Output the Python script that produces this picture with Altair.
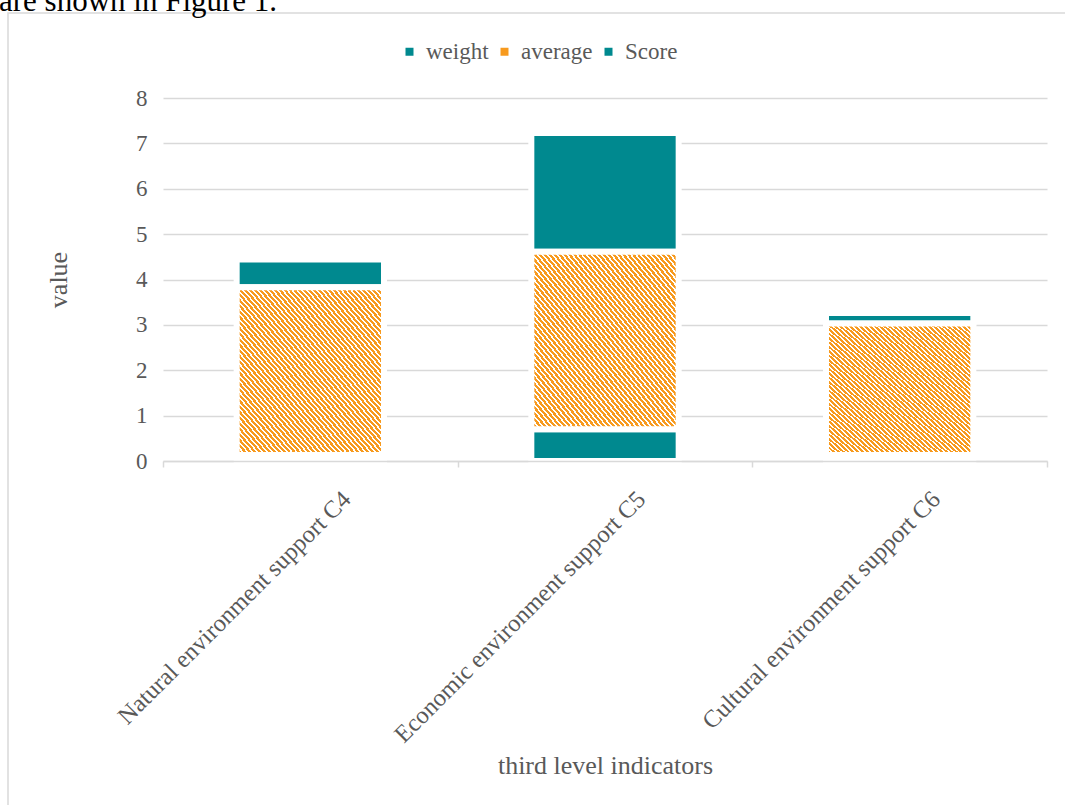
import altair as alt
import pandas as pd

# ---- data ----
categories = [
    "Natural environment support C4",
    "Economic environment support C5",
    "Cultural environment support C6",
]
series_names = ["weight", "average", "Score"]
weight = [0.13, 0.70, 0.13]
average = [3.70, 3.91, 2.90]
score = [0.61, 2.62, 0.23]
y_ticks = [0, 1, 2, 3, 4, 5, 6, 7, 8]

rows = []
for i, c in enumerate(categories):
    for k, (s, vals) in enumerate(zip(series_names, [weight, average, score])):
        rows.append({"category": c, "series": s, "order": k, "value": vals[i]})
df = pd.DataFrame(rows)

TEAL = "#00898F"
ORANGE = "#F79A1E"
GRAY = "#595959"
LINE = "#d9d9d9"
FONT = "Liberation Serif"

# diagonal hatch built as a hard-stop linear gradient
N = 60
frac = 0.6
stops = []
for k in range(N):
    a = k / N
    b = (k + frac) / N
    e = (k + 1) / N
    stops += [
        {"offset": a, "color": ORANGE},
        {"offset": b, "color": ORANGE},
        {"offset": b, "color": "#ffffff"},
        {"offset": e, "color": "#ffffff"},
    ]
hatch = {"gradient": "linear", "x1": 0, "y1": 1, "x2": 1, "y2": 0, "stops": stops}

x_enc = alt.X(
    "category:N",
    sort=categories,
    scale=alt.Scale(paddingInner=0, paddingOuter=0),
    axis=alt.Axis(
        title="third level indicators",
        titleFont=FONT,
        titleFontSize=26,
        titleFontWeight="normal",
        titleColor=GRAY,
        titleX=442,
        titleY=304,
        titleBaseline="middle",
        labelFont=FONT,
        labelFontSize=24.5,
        labelColor=GRAY,
        labelAngle=315,
        labelAlign="right",
        labelBaseline="top",
        labelOffset=28,
        labelPadding=20,
        labelLimit=0,
        tickBand="extent",
        ticks=True,
        tickSize=6,
        tickColor=LINE,
        tickWidth=1.5,
        domainColor=LINE,
        domainWidth=1.5,
        grid=False,
        zindex=1,
    ),
)
y_enc = alt.Y(
    "start:Q",
    scale=alt.Scale(domain=[0, 8], nice=False),
    axis=alt.Axis(
        values=y_ticks,
        title="value",
        titleFont=FONT,
        titleFontSize=26,
        titleFontWeight="normal",
        titleColor=GRAY,
        titleAngle=270,
        titleX=-105,
        titleY=181.5,
        titleBaseline="middle",
        titleAlign="center",
        labelFont=FONT,
        labelFontSize=23,
        labelColor=GRAY,
        labelPadding=16,
        domain=False,
        ticks=False,
        grid=True,
        gridColor=LINE,
        gridWidth=1.5,
        zindex=0,
    ),
)

base = alt.Chart(df).transform_window(
    end="sum(value)",
    frame=[None, 0],
    groupby=["category"],
    sort=[alt.SortField("order")],
).transform_calculate(start="datum.end - datum.value")

bar_width = {"band": 0.5}

teal_bars = base.transform_filter("datum.series != 'average'").mark_bar(
    stroke="white", strokeWidth=6, width=bar_width
).encode(
    x=x_enc,
    y=y_enc,
    y2="end:Q",
    color=alt.Color(
        "series:N",
        scale=alt.Scale(domain=series_names, range=[TEAL, ORANGE, TEAL]),
        legend=alt.Legend(
            title=None,
            orient="none",
            direction="horizontal",
            legendX=235,
            legendY=-58,
            symbolType="square",
            symbolSize=64,
            symbolStrokeWidth=0,
            labelFont=FONT,
            labelFontSize=23,
            labelColor=GRAY,
            labelOffset=5,
            columnPadding=4,
        ),
    ),
)

avg_bars = base.transform_filter("datum.series == 'average'").mark_bar(
    stroke="white", strokeWidth=6, fill=hatch, width=bar_width
).encode(x=x_enc, y=y_enc, y2="end:Q")

one = pd.DataFrame({"t": ["are shown in Figure 1."]})
border = alt.Chart(one).mark_rect(filled=False, stroke=LINE, strokeWidth=1.5).encode(
    x=alt.value(-155), x2=alt.value(930), y=alt.value(-85), y2=alt.value(730)
)
doc_text = alt.Chart(one).mark_text(
    align="left", baseline="alphabetic", font=FONT, fontSize=31, color="black"
).encode(x=alt.value(-164), y=alt.value(-87), text="t:N")

chart = alt.layer(border, doc_text, teal_bars, avg_bars).properties(
    width=884,
    height=363,
    padding={"left": 163, "top": 98, "right": 18, "bottom": 344},
    autosize=alt.AutoSizeParams(type="none"),
    background="white",
).configure_view(stroke=None)

chart.save("out.html", embed_options={"renderer": "svg", "actions": False})
